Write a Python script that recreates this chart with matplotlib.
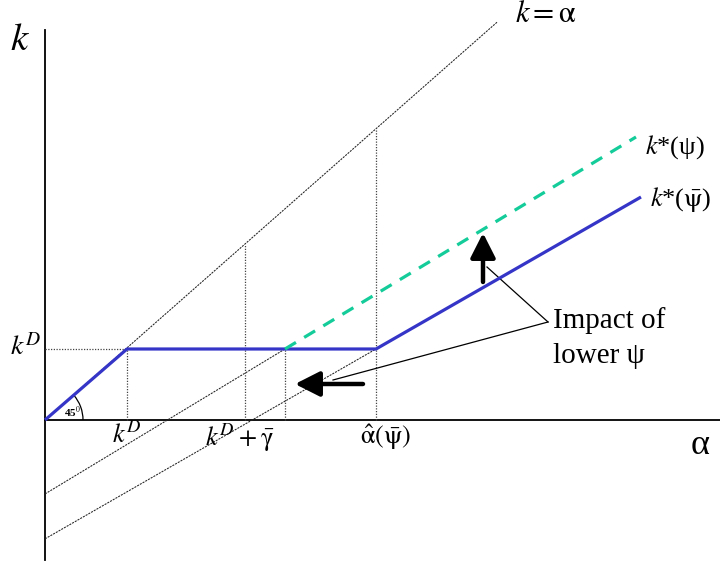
import numpy as np
import matplotlib
matplotlib.use("Agg")
import matplotlib.pyplot as plt
from matplotlib.patches import Arc

plt.rcParams["font.family"] = ["Liberation Serif", "DejaVu Serif"]
plt.rcParams["mathtext.fontset"] = "stix"

# capital threshold and kinks of the two policy functions (alpha, k)
k_d = 82
k_d_gamma = 200          # k^D + gamma-bar
kink_low_psi = (240, 71)     # k*(psi) leaves k^D here
kink_high_psi = (331, 71)    # k*(psi-bar) leaves k^D here
end_low_psi = (591, 283)
end_high_psi = (596, 223)
slope_diag = 0.88            # k = alpha line as drawn
alpha_max = 452

blue = "#3535c8"
green = "#14cc99"

fig = plt.figure(figsize=(7.2, 5.65), dpi=100)
ax = fig.add_axes([0, 0, 1, 1])
ax.set_xlim(-45, 675)
ax.set_ylim(-145, 420)
ax.axis("off")

k_d_y = kink_low_psi[1]

# axes
ax.plot([0, 0], [-140, 390], color="k", lw=1.3)
ax.plot([0, 675], [0, 0], color="k", lw=1.3)

thin = dict(color="#222222", lw=0.75, linestyle=(0, (2, 1)))
dots = dict(color="#444444", lw=0.9, linestyle=(0, (1, 1.2)))

# k = alpha
ax.plot([0, alpha_max], [0, slope_diag * alpha_max], **thin)

# policy lines extended down to the vertical axis
for kink, end in ((kink_low_psi, end_low_psi), (kink_high_psi, end_high_psi)):
    s = (end[1] - kink[1]) / (end[0] - kink[0])
    ax.plot([0, kink[0]], [kink[1] - s * kink[0], kink[1]], **thin)

# guide lines
ax.plot([0, k_d], [k_d_y, k_d_y], **dots)
ax.plot([k_d, k_d], [0, k_d_y], **dots)
ax.plot([k_d_gamma, k_d_gamma], [0, slope_diag * k_d_gamma], **dots)
ax.plot([kink_low_psi[0]] * 2, [0, k_d_y], **dots)
ax.plot([kink_high_psi[0]] * 2, [0, slope_diag * kink_high_psi[0]], **dots)

# k*(psi-bar), solid blue
ax.plot([0, k_d, kink_high_psi[0], end_high_psi[0]],
        [0, k_d_y, k_d_y, end_high_psi[1]],
        color=blue, lw=2.3, solid_capstyle="butt", zorder=3)
# k*(psi), dashed green
ax.plot([kink_low_psi[0], end_low_psi[0]], [k_d_y, end_low_psi[1]],
        color=green, lw=2.3, linestyle=(0, (4, 3)), zorder=3)

# 45 degree marker
ang = np.degrees(np.arctan2(k_d_y, k_d))
ax.add_patch(Arc((0, 0), 76, 76, theta1=0, theta2=ang, color="k", lw=0.9))
ax.text(27, 8, "45$^0$", fontsize=8, ha="center", va="center", fontweight="bold")

# axis labels
ax.text(-25, 380, "$k$", fontsize=28, ha="center", va="center")
ax.text(655, -25, "α", fontsize=26, ha="center", va="center")
ax.text(-4, 73, "$k^D$", fontsize=20, ha="right", va="center")

ax.text(k_d, -2, "$k^D$", fontsize=19, ha="center", va="top")
ax.text(195, -2, r"$k^D + \bar{\mathrm{\gamma}}$", fontsize=19, ha="center", va="top")
ax.text(340, -2, r"$\hat{\mathrm{\alpha}}(\bar{\mathrm{\psi}})$", fontsize=19,
        ha="center", va="top")

ax.text(501, 405, r"$k = \mathrm{\alpha}$", fontsize=22, ha="center", va="center")
ax.text(600, 273, r"$k$*(ψ)", fontsize=19, ha="left", va="center")
ax.text(605, 220, r"$k$*($\bar{\mathrm{\psi}}$)", fontsize=19, ha="left", va="center")

ax.text(508, 82, "Impact of\nlower ψ", fontsize=21, ha="left", va="center",
        linespacing=1.45)

# callout lines
ax.plot([503, 442], [98, 153], color="k", lw=0.9)
ax.plot([503, 288], [98, 40], color="k", lw=0.9)

# shift arrows
arrow = dict(arrowstyle="-|>,head_length=0.75,head_width=0.38", lw=3.2,
             color="k", shrinkA=0, shrinkB=0, mutation_scale=20)
ax.annotate("", xy=(438, 187), xytext=(438, 138), arrowprops=arrow)
ax.annotate("", xy=(250, 36), xytext=(318, 36), arrowprops=arrow)

fig.savefig("out.png", dpi=100)
